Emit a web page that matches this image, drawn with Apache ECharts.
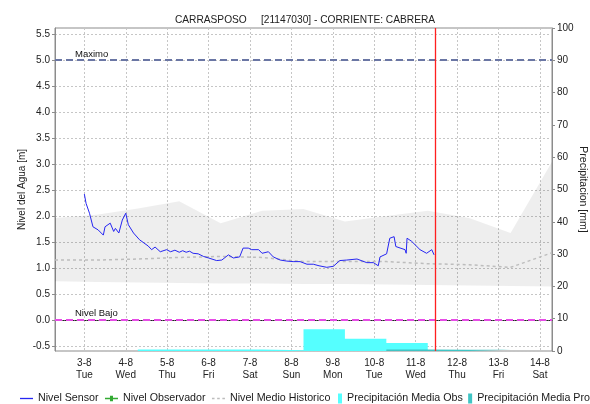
<!DOCTYPE html>
<html>
<head>
<meta charset="utf-8">
<script src="https://cdn.jsdelivr.net/npm/echarts@6/dist/echarts.min.js"></script>
<style>
  html, body { margin: 0; padding: 0; background: #ffffff; }
  #chart { width: 590px; height: 404px; }
</style>
</head>
<body>
<div id="chart"></div>
<script>
// Estación y periodo mostrado
const titulo = 'CARRASPOSO     [21147030] - CORRIENTE: CABRERA';
const inicio = '2021-08-02 07:00';
const fin = '2021-08-14 07:00';
const horaActual = '2021-08-11 11:10';
const diasSemana = ['Sun', 'Mon', 'Tue', 'Wed', 'Thu', 'Fri', 'Sat'];

// Umbrales de nivel [m]
const nivelMaximo = 5.0;
const nivelBajoValor = 0.0;

// Nivel del sensor [m]
const nivelSensor = [
  ['2021-08-03 00:00', 2.42], ['2021-08-03 01:00', 2.24], ['2021-08-03 03:00', 2.05],
  ['2021-08-03 05:00', 1.79], ['2021-08-03 08:00', 1.73], ['2021-08-03 11:00', 1.63],
  ['2021-08-03 12:00', 1.79], ['2021-08-03 15:00', 1.86], ['2021-08-03 17:00', 1.70],
  ['2021-08-03 18:00', 1.76], ['2021-08-03 20:00', 1.67], ['2021-08-03 22:00', 1.92],
  ['2021-08-04 00:00', 2.05], ['2021-08-04 01:30', 1.83], ['2021-08-04 04:30', 1.67],
  ['2021-08-04 08:00', 1.54], ['2021-08-04 13:00', 1.42], ['2021-08-04 15:00', 1.35],
  ['2021-08-04 17:00', 1.40], ['2021-08-04 20:00', 1.31], ['2021-08-04 23:40', 1.35],
  ['2021-08-05 02:00', 1.31], ['2021-08-05 04:30', 1.34], ['2021-08-05 07:00', 1.30],
  ['2021-08-05 09:00', 1.33], ['2021-08-05 11:00', 1.30], ['2021-08-05 13:00', 1.32],
  ['2021-08-05 15:00', 1.28], ['2021-08-05 18:00', 1.27], ['2021-08-05 21:00', 1.22],
  ['2021-08-06 00:00', 1.19], ['2021-08-06 04:40', 1.14], ['2021-08-06 07:40', 1.15],
  ['2021-08-06 11:30', 1.25], ['2021-08-06 14:20', 1.19], ['2021-08-06 18:00', 1.21],
  ['2021-08-06 20:00', 1.38], ['2021-08-06 23:00', 1.38], ['2021-08-07 01:00', 1.35],
  ['2021-08-07 05:00', 1.35], ['2021-08-07 07:00', 1.28], ['2021-08-07 10:40', 1.31],
  ['2021-08-07 13:30', 1.21], ['2021-08-07 17:30', 1.15], ['2021-08-07 21:20', 1.13],
  ['2021-08-08 01:00', 1.12], ['2021-08-08 05:00', 1.12], ['2021-08-08 09:00', 1.07],
  ['2021-08-08 12:40', 1.07], ['2021-08-08 16:00', 1.04], ['2021-08-08 20:30', 1.01],
  ['2021-08-09 00:20', 1.03], ['2021-08-09 04:00', 1.14], ['2021-08-09 08:00', 1.15],
  ['2021-08-09 14:00', 1.17], ['2021-08-09 19:40', 1.10], ['2021-08-09 23:30', 1.10],
  ['2021-08-10 02:20', 1.04], ['2021-08-10 03:20', 1.21], ['2021-08-10 07:10', 1.27],
  ['2021-08-10 09:00', 1.57], ['2021-08-10 11:30', 1.60], ['2021-08-10 12:30', 1.41],
  ['2021-08-10 17:50', 1.35], ['2021-08-10 18:30', 1.28], ['2021-08-10 19:00', 1.57],
  ['2021-08-10 21:40', 1.51], ['2021-08-11 02:30', 1.35], ['2021-08-11 06:20', 1.28],
  ['2021-08-11 09:20', 1.35], ['2021-08-11 10:40', 1.25]
];

// Nivel leído por el observador [m] (sin lecturas en el periodo)
const nivelObservador = [];

// Estadística histórica diaria [m]
const fechasHistorico = [
  '2021-08-02 07:00', '2021-08-03 07:00', '2021-08-04 07:00', '2021-08-05 07:00',
  '2021-08-06 07:00', '2021-08-07 07:00', '2021-08-08 07:00', '2021-08-09 07:00',
  '2021-08-10 07:00', '2021-08-11 07:00', '2021-08-12 07:00', '2021-08-13 07:00',
  '2021-08-14 07:00'
];
const medioHistorico  = [1.15, 1.15, 1.17, 1.20, 1.22, 1.20, 1.12, 1.12, 1.12, 1.08, 1.06, 1.01, 1.29];
const maximoHistorico = [1.96, 2.02, 2.14, 2.28, 1.86, 2.10, 2.13, 1.89, 2.00, 2.10, 1.96, 1.67, 3.04];
const minimoHistorico = [0.74, 0.73, 0.72, 0.71, 0.70, 0.70, 0.69, 0.69, 0.68, 0.67, 0.66, 0.65, 0.64];

// Precipitación acumulada diaria (07:00 a 07:00) [mm]
const precipObs = [
  ['2021-08-04 07:00', 0.5], ['2021-08-05 07:00', 0.5], ['2021-08-06 07:00', 0.5],
  ['2021-08-07 07:00', 0.2], ['2021-08-08 07:00', 6.7], ['2021-08-09 07:00', 3.8],
  ['2021-08-10 07:00', 2.5], ['2021-08-11 07:00', 0]
];
const precipPro = [
  ['2021-08-10 07:00', 0.5], ['2021-08-11 07:00', 0.4], ['2021-08-12 07:00', 0.4],
  ['2021-08-13 07:00', 0]
];

const FONT = '"Liberation Sans", Arial, Helvetica, sans-serif';
const toTime = s => new Date(s.replace(' ', 'T')).getTime();

const bandaInferior = fechasHistorico.map((t, i) => [t, minimoHistorico[i]]);
const bandaRango = fechasHistorico.map((t, i) => [t, +(maximoHistorico[i] - minimoHistorico[i]).toFixed(3)]);
const lineaMedia = fechasHistorico.map((t, i) => [t, medioHistorico[i]]);

const gridGris = { color: '#c6c6c6', type: [2, 2], width: 1 };
const leyendaTexto = { fontSize: 10.7, color: '#1a1a1a', fontFamily: FONT };

const chart = echarts.init(document.getElementById('chart'), null, { renderer: 'canvas' });

chart.setOption({
  animation: false,
  backgroundColor: '#ffffff',
  textStyle: { fontFamily: FONT },
  title: {
    text: titulo,
    left: 300,
    top: 10,
    textAlign: 'center',
    textStyle: { fontSize: 10.2, fontWeight: 'normal', color: '#222', fontFamily: FONT }
  },
  grid: {
    left: 55, right: 38, top: 28, bottom: 53,
    outerBoundsMode: 'none',
    show: true, borderColor: '#8c8c8c', borderWidth: 1, backgroundColor: 'transparent'
  },
  legend: [
    {
      left: 20, top: 393, padding: 0,
      itemWidth: 13, itemHeight: 10, itemGap: 6.4,
      textStyle: leyendaTexto,
      data: [
        { name: 'Nivel Sensor', icon: 'path://M0,0h13v1.3h-13z' },
        { name: 'Nivel Observador', icon: 'path://M0,2h5v-2h3v2h5v1.3h-5v2h-3v-2h-5z' },
        { name: 'Nivel Medio Historico', icon: 'path://M0,0h2.5v1.3h-2.5zM5,0h2.5v1.3h-2.5zM10,0h2.5v1.3h-2.5z' }
      ]
    },
    {
      left: 338, top: 393, padding: 0, width: 800,
      itemWidth: 4, itemHeight: 10, itemGap: 5.3,
      textStyle: leyendaTexto,
      data: [
        { name: 'Precipitación Media Obs', icon: 'rect' },
        { name: 'Precipitación Media Pronosticada', icon: 'rect' }
      ]
    }
  ],
  xAxis: {
    type: 'time',
    min: toTime(inicio),
    max: toTime(fin),
    minInterval: 864e5,
    maxInterval: 864e5,
    axisLine: { show: true, lineStyle: { color: '#222', type: [1, 1], width: 1 } },
    axisTick: { show: false },
    axisLabel: {
      showMinLabel: false, showMaxLabel: false,
      color: '#222', fontSize: 10, fontFamily: FONT, lineHeight: 12, margin: 6,
      formatter: v => {
        const d = new Date(v);
        return d.getDate() + '-' + (d.getMonth() + 1) + '\n' + diasSemana[d.getDay()];
      }
    },
    splitLine: { show: true, lineStyle: gridGris }
  },
  yAxis: [
    {
      type: 'value',
      min: -0.6, max: 5.615, splitNumber: 12,
      name: 'Nivel del Agua [m]',
      nameLocation: 'middle', nameGap: 28, nameRotate: 90, nameMoveOverlap: false,
      nameTextStyle: { fontSize: 10, color: '#222', fontFamily: FONT },
      axisLine: { show: true, lineStyle: { color: '#8c8c8c' } },
      axisTick: { show: true, length: 3, lineStyle: { color: '#8c8c8c' } },
      axisLabel: {
        showMinLabel: false, showMaxLabel: false,
        color: '#222', fontSize: 10, fontFamily: FONT, margin: 5,
        formatter: v => v.toFixed(1)
      },
      splitLine: { show: true, lineStyle: gridGris }
    },
    {
      type: 'value',
      min: 0, max: 100, interval: 10,
      position: 'right',
      name: 'Precipitacion [mm]',
      nameLocation: 'middle', nameGap: 25, nameRotate: -90, nameMoveOverlap: false,
      nameTextStyle: { fontSize: 10.5, color: '#222', fontFamily: FONT },
      axisLine: { show: true, lineStyle: { color: '#8c8c8c' } },
      axisTick: { show: true, length: 3, lineStyle: { color: '#8c8c8c' } },
      axisLabel: { color: '#222', fontSize: 10, fontFamily: FONT, margin: 5 },
      splitLine: { show: false }
    }
  ],
  series: [
    {
      name: 'historico-min',
      type: 'line', yAxisIndex: 0, stack: 'historico',
      data: bandaInferior, symbol: 'none', silent: true,
      lineStyle: { width: 0, opacity: 0 }, z: 1
    },
    {
      name: 'historico-rango',
      type: 'line', yAxisIndex: 0, stack: 'historico',
      data: bandaRango, symbol: 'none', silent: true,
      lineStyle: { width: 0, opacity: 0 },
      areaStyle: { color: 'rgba(0,0,0,0.065)', opacity: 1 }, z: 1
    },
    {
      name: 'Precipitación Media Obs',
      type: 'line', yAxisIndex: 1, step: 'end',
      data: precipObs, symbol: 'none',
      itemStyle: { color: '#55ffff' },
      lineStyle: { width: 0 },
      areaStyle: { color: '#55ffff', opacity: 1 }, z: 2
    },
    {
      name: 'Precipitación Media Pronosticada',
      type: 'line', yAxisIndex: 1, step: 'end',
      data: precipPro, symbol: 'none',
      itemStyle: { color: '#3fc4c4' },
      lineStyle: { width: 0 },
      areaStyle: { color: '#3fc4c4', opacity: 1 }, z: 3
    },
    {
      name: 'Nivel Medio Historico',
      type: 'line', yAxisIndex: 0,
      data: lineaMedia, symbol: 'none',
      itemStyle: { color: '#bdbdbd' },
      lineStyle: { color: '#bdbdbd', width: 1.5, type: [3, 3] }, z: 4
    },
    {
      name: 'Nivel Observador',
      type: 'line', yAxisIndex: 0,
      data: nivelObservador, symbol: 'diamond', symbolSize: 4,
      itemStyle: { color: '#33aa33' },
      lineStyle: { color: '#33aa33', width: 1 }, z: 5
    },
    {
      name: 'Nivel Sensor',
      type: 'line', yAxisIndex: 0,
      data: nivelSensor, symbol: 'none',
      itemStyle: { color: '#2626f2' },
      lineStyle: { color: '#2626f2', width: 1 }, z: 6,
      markLine: {
        silent: true, symbol: 'none', animation: false,
        data: [
          {
            yAxis: nivelMaximo,
            lineStyle: { color: '#6a76a4', type: [7, 4], width: 2 },
            label: { show: true, formatter: 'Maximo', position: 'insideStartTop', distance: [20, 1],
                     color: '#111', fontSize: 9.5, fontFamily: FONT }
          },
          {
            yAxis: nivelBajoValor,
            lineStyle: { color: '#e64ce6', type: [7, 4], width: 2 },
            label: { show: true, formatter: 'Nivel Bajo', position: 'insideStartTop', distance: [20, 1],
                     color: '#111', fontSize: 9.5, fontFamily: FONT }
          }
        ]
      }
    },
    {
      // Hora de la última actualización
      name: 'ahora',
      type: 'line', yAxisIndex: 0, data: [], silent: true, z: 7,
      markLine: {
        silent: true, symbol: 'none', animation: false,
        label: { show: false },
        lineStyle: { color: '#ff1f1f', type: 'solid', width: 1.3, opacity: 1 },
        emphasis: { disabled: true },
        data: [{ xAxis: toTime(horaActual) }]
      }
    }
  ]
});
</script>
</body>
</html>
